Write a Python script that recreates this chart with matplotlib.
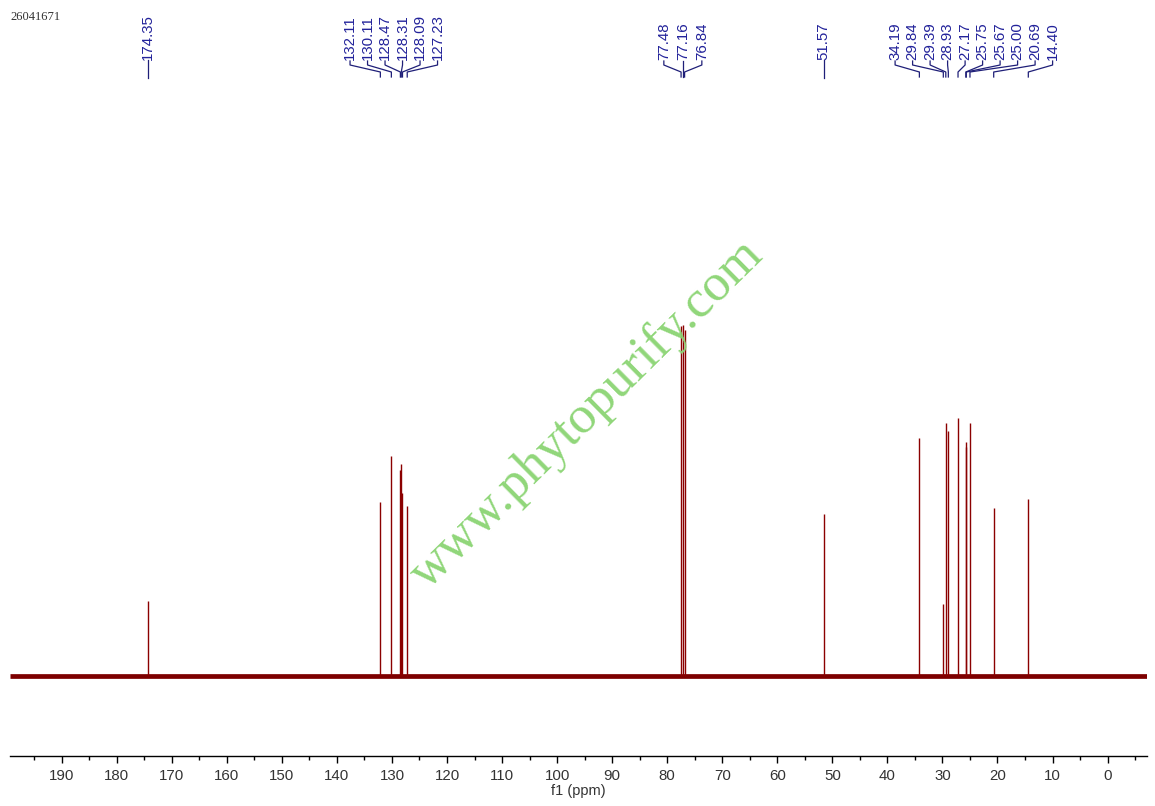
import matplotlib
matplotlib.use("Agg")
import matplotlib.pyplot as plt
import numpy as np

# ---- data ----
sample_id = "26041671"
peak_shifts = [174.35, 132.11, 130.11, 128.47, 128.31, 128.09, 127.23,
               77.48, 77.16, 76.84, 51.57,
               34.19, 29.84, 29.39, 28.93, 27.17, 25.75, 25.67, 25.00, 20.69, 14.40]
peak_heights = [21.4, 49.6, 62.7, 58.7, 60.4, 52.0, 48.4,
                99.7, 100.0, 98.5, 46.2,
                67.8, 20.5, 72.1, 69.8, 73.5, 66.7, 65.2, 72.1, 47.9, 50.4]
label_groups = [[174.35],
                [132.11, 130.11, 128.47, 128.31, 128.09, 127.23],
                [77.48, 77.16, 76.84],
                [51.57],
                [34.19, 29.84, 29.39, 28.93, 27.17, 25.75, 25.67, 25.00, 20.69, 14.40]]
major_ticks = list(range(190, -1, -10))
minor_ticks = [195 - 10 * i for i in range(20)] + [-5]
xlabel = "f1 (ppm)"
watermark = "www.phytopurify.com"

# ---- figure ----
W, H = 1155, 806
fig = plt.figure(figsize=(W / 100, H / 100), dpi=100)
ax_left, ax_right, ax_bottom, ax_top = 10, 1147, 756, 100
ax = fig.add_axes([ax_left / W, 1 - ax_bottom / H, (ax_right - ax_left) / W,
                   (ax_bottom - ax_top) / H])
xl, xr = 199.39, -7.16
ax.set_xlim(xl, xr)
# baseline at pixel 676, 100 units = 351 px
ppu = 351 / 100.0
ax.set_ylim(-(ax_bottom - 676) / ppu, (676 - ax_top) / ppu)

spec_color = "#8b0000"
ax.axhline(0, color="#7d0000", lw=3.4, solid_capstyle="butt", zorder=2)
ax.vlines(peak_shifts, 0, peak_heights, color=spec_color, lw=1.0, zorder=3)

for s in ["top", "left", "right"]:
    ax.spines[s].set_visible(False)
ax.spines["bottom"].set_linewidth(1.0)
ax.set_yticks([])
ax.set_xticks(major_ticks)
ax.set_xticks(minor_ticks, minor=True)
ax.tick_params(axis="x", which="major", direction="out", length=5, width=1.0,
               pad=4, labelsize=10.8, labelcolor="#333333")
ax.tick_params(axis="x", which="minor", direction="out", length=2.8, width=1.0)
for lab in ax.get_xticklabels():
    lab.set_family("Liberation Sans")
ax.set_xlabel(xlabel, fontsize=10.5, family="Liberation Sans", color="#333333",
              labelpad=1)

# ---- peak labels (drawn in figure pixel space) ----
def ppm_to_px(v):
    return ax_left + (xl - v) / (xl - xr) * (ax_right - ax_left)

label_color = "#22229a"
line_color = "#1f1f78"
y_text_bottom = 60
for grp in label_groups:
    pxs = [ppm_to_px(v) for v in grp]
    centre = (min(pxs) + max(pxs)) / 2
    n = len(grp)
    spacing = 19.0 if n <= 3 else 17.5
    for i, (v, p) in enumerate(zip(grp, pxs)):
        lx = centre + (i - (n - 1) / 2) * spacing if n > 1 else p
        fig.text(lx / W, 1 - y_text_bottom / H, f"{v:.2f}", rotation=90,
                 ha="center", va="bottom", fontsize=10.8,
                 family="Liberation Sans", color=label_color)
        if n == 1:
            xs = [lx, lx]
            ys = [y_text_bottom, 78]
        else:
            xs = [lx, lx, p, p]
            ys = [y_text_bottom + 1, 65, 72, 77]
        fig.add_artist(plt.Line2D([x / W for x in xs], [1 - y / H for y in ys],
                                  color=line_color, lw=0.9,
                                  transform=fig.transFigure))

# ---- header and watermark ----
fig.text(10 / W, 1 - 17 / H, sample_id, ha="left", va="center", fontsize=9,
         family="Liberation Serif", color="#333333")
fig.text(587 / W, 1 - 414 / H, watermark, rotation=44.6, ha="center",
         va="center", fontsize=38, family="Liberation Serif",
         color="#8ad472", alpha=0.95, zorder=10)

fig.savefig("out.png", dpi=100)
